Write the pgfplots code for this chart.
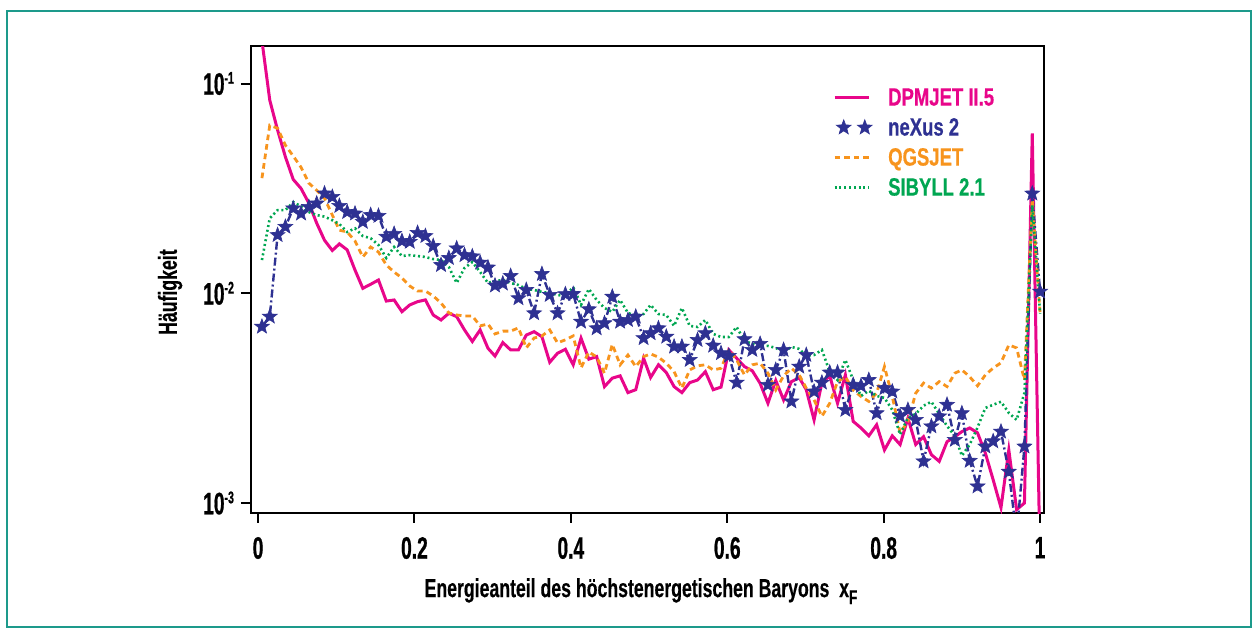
\documentclass[border=0pt]{standalone}
\usepackage{fontspec}
\setmainfont{Liberation Sans Bold}[FakeStretch=0.68, FakeBold=0.4]
\newfontfamily\tickfont{Liberation Sans Bold}[FakeStretch=0.62, FakeBold=0.6]
\newfontfamily\legfont{Liberation Sans Bold}[FakeStretch=0.74, FakeBold=0.5]
\usepackage{pgfplots}
\usepackage{pgfplotstable}
\pgfplotsset{compat=1.18}
\definecolor{dpm}{HTML}{E8068A}
\definecolor{nex}{HTML}{2E3192}
\definecolor{qgs}{HTML}{F7941D}
\definecolor{sib}{HTML}{00A651}
\definecolor{frame}{HTML}{1D9A8B}

\pgfdeclareplotmark{fstar}{%
  \pgfpathmoveto{\pgfpointpolar{90}{\pgfplotmarksize}}%
  \pgfpathlineto{\pgfpointpolar{126}{0.42\pgfplotmarksize}}%
  \pgfpathlineto{\pgfpointpolar{162}{\pgfplotmarksize}}%
  \pgfpathlineto{\pgfpointpolar{198}{0.42\pgfplotmarksize}}%
  \pgfpathlineto{\pgfpointpolar{234}{\pgfplotmarksize}}%
  \pgfpathlineto{\pgfpointpolar{270}{0.42\pgfplotmarksize}}%
  \pgfpathlineto{\pgfpointpolar{306}{\pgfplotmarksize}}%
  \pgfpathlineto{\pgfpointpolar{342}{0.42\pgfplotmarksize}}%
  \pgfpathlineto{\pgfpointpolar{18}{\pgfplotmarksize}}%
  \pgfpathlineto{\pgfpointpolar{54}{0.42\pgfplotmarksize}}%
  \pgfpathclose
  \pgfusepathqfillstroke
}
\pgfplotsset{starlegend/.style={legend image code/.code={\path[##1] plot[only marks] coordinates {(0.16cm,0cm) (0.53cm,0cm)};}}}

\pgfplotstableread{
x dpm nex qgs sib
0.005 0.16 0.00693 0.0354 0.0144
0.015 0.0833 0.00774 0.0633 0.0228
0.025 0.060 0.01895 0.0612 0.0249
0.035 0.0447 0.02075 0.0508 0.0249
0.045 0.0349 0.0254 0.0451 0.0272
0.055 0.0316 0.0240 0.0399 0.0260
0.065 0.0269 0.0258 0.0335 0.0244
0.075 0.0216 0.0268 0.0310 0.0236
0.085 0.0179 0.0299 0.0284 0.0232
0.095 0.0160 0.0288 0.0236 0.0223
0.104 0.0172 0.0261 0.0200 0.0214
0.114 0.0161 0.0244 0.0196 0.0196
0.124 0.0129 0.0240 0.01775 0.0204
0.134 0.01056 0.0219 0.01489 0.01875
0.144 0.01104 0.0236 0.01662 0.0183
0.154 0.01157 0.0234 0.01573 0.0170
0.164 0.00918 0.0186 0.01364 0.01473
0.174 0.00929 0.0192 0.01263 0.01662
0.184 0.00817 0.01775 0.01183 0.01505
0.194 0.0088 0.0176 0.01083 0.0152
0.204 0.00912 0.0194 0.01025 0.01505
0.214 0.0093 0.01875 0.01025 0.0149
0.224 0.00788 0.0168 0.00971 0.01456
0.234 0.00746 0.01364 0.00899 0.0144
0.244 0.00803 0.01473 0.00806 0.01334
0.254 0.00774 0.01637 0.00788 0.0112
0.264 0.00669 0.0152 0.0078 0.0132
0.274 0.00589 0.0150 0.0078 0.01409
0.284 0.00669 0.0140 0.00699 0.01263
0.294 0.00547 0.01327 0.00714 0.0112
0.303 0.00502 0.01089 0.0064 0.01144
0.313 0.00582 0.01113 0.0066 0.01157
0.323 0.00537 0.01209 0.0066 0.0112
0.333 0.00537 0.00947 0.00684 0.01095
0.343 0.00632 0.01037 0.00549 0.01048
0.353 0.00656 0.00803 0.00612 0.01037
0.363 0.00621 0.01236 0.00626 0.01014
0.373 0.00469 0.00982 0.00669 0.01003
0.383 0.00518 0.00803 0.0058 0.00982
0.393 0.00541 0.0099 0.0060 0.0097
0.403 0.00456 0.00992 0.00626 0.01071
0.413 0.00611 0.00732 0.00441 0.0088
0.423 0.00485 0.00839 0.00525 0.01048
0.433 0.00499 0.00681 0.00497 0.00929
0.443 0.00359 0.0072 0.00416 0.00851
0.453 0.00394 0.00963 0.00571 0.00815
0.463 0.00404 0.00732 0.00456 0.00929
0.473 0.00336 0.00746 0.00508 0.00806
0.483 0.00347 0.00774 0.00447 0.0078
0.493 0.0049 0.00611 0.00499 0.00797
0.502 0.00397 0.00645 0.00514 0.0088
0.512 0.00456 0.00681 0.00496 0.00797
0.522 0.00419 0.00621 0.00464 0.00788
0.532 0.00359 0.00557 0.00423 0.00699
0.542 0.00336 0.00557 0.00353 0.00851
0.552 0.00375 0.00481 0.00431 0.00699
0.562 0.00386 0.00599 0.00451 0.00691
0.572 0.00423 0.00645 0.00456 0.00746
0.582 0.00347 0.00563 0.00431 0.0064
0.592 0.00357 0.00518 0.00439 0.00619
0.602 0.00537 0.00503 0.00537 0.00619
0.612 0.0049 0.00375 0.00481 0.00691
0.622 0.00447 0.00604 0.00408 0.00593
0.632 0.00427 0.00537 0.00456 0.00574
0.642 0.00372 0.00574 0.00464 0.00561
0.652 0.00299 0.00366 0.00416 0.00561
0.662 0.00384 0.00431 0.00346 0.00549
0.672 0.0031 0.00537 0.00404 0.00525
0.682 0.00379 0.00305 0.00439 0.00555
0.692 0.00396 0.00447 0.00408 0.00543
0.701 0.00347 0.00508 0.00353 0.00503
0.711 0.00249 0.0034 0.0031 0.00508
0.721 0.00375 0.00375 0.00259 0.00537
0.731 0.00404 0.00419 0.00299 0.00422
0.741 0.00299 0.00419 0.00379 0.00386
0.751 0.00408 0.00278 0.0040 0.00481
0.761 0.00245 0.00366 0.00346 0.00386
0.771 0.00228 0.00362 0.00322 0.00324
0.781 0.00209 0.00386 0.00305 0.00343
0.791 0.00236 0.00268 0.00334 0.00324
0.801 0.00179 0.00353 0.00447 0.00317
0.811 0.00209 0.0034 0.00322 0.00278
0.821 0.0019 0.0026 0.00216 0.00212
0.831 0.00254 0.00278 0.00245 0.00255
0.841 0.0019 0.00249 0.00334 0.00266
0.851 0.00207 0.00158 0.00373 0.00291
0.861 0.0017 0.00232 0.00353 0.00304
0.871 0.00158 0.00259 0.00379 0.00266
0.881 0.00196 0.00294 0.00359 0.00233
0.891 0.00207 0.002 0.00416 0.00209
0.900 0.00219 0.00268 0.00431 0.00168
0.910 0.00228 0.00159 0.0040 0.0019
0.920 0.00216 0.0012 0.00362 0.00229
0.930 0.00173 0.00186 0.00408 0.00284
0.940 0.00129 0.00197 0.0044 0.00294
0.950 0.00095 0.00219 0.00466 0.00304
0.960 0.00179 0.00141 0.00567 0.00269
0.970 0.00093 0.0007 0.00549 0.00249
0.980 0.00100 0.00186 0.00386 0.00335
0.990 0.0578 0.0299 0.028 0.0263
1.000 0.0005 0.01018 0.008 0.008
}\datatable

\begin{document}
\begin{tikzpicture}[x=1pt,y=1pt]
\useasboundingbox (-125.5,-60.5) rectangle (503.5,256.5);
\draw[frame, line width=1.1pt] (-121.9,-57) rectangle (500,251);
\begin{axis}[
  at={(0,0)}, anchor=south west, scale only axis,
  width=396.5pt, height=233.5pt,
  xmin=-0.009, xmax=1.005,
  ymode=log, ymin=8.96e-4, ymax=0.151,
  xtick={0,0.2,0.4,0.6,0.8,1},
  xticklabels={0,0.2,0.4,0.6,0.8,1},
  ytick={0.001,0.01,0.1},
  yticklabels={10\raisebox{5.5pt}{\fontsize{8.5}{8.5}\selectfont -3},10\raisebox{5.5pt}{\fontsize{8.5}{8.5}\selectfont -2},10\raisebox{5.5pt}{\fontsize{8.5}{8.5}\selectfont -1}},
  yminorticks=false,
  xtick pos=bottom, ytick pos=left,
  tick align=outside, major tick length=5pt,
  tick style={black, line width=1pt},
  axis line style={line width=1pt},
  tick label style={font=\tickfont\fontsize{15.5}{15.5}\selectfont},
  xticklabel style={yshift=-3.5pt},
  yticklabel style={xshift=0pt},
  xlabel={Energieanteil des höchstenergetischen Baryons\ \ x\raisebox{-3.5pt}{\fontsize{10}{10}\selectfont F}},
  xlabel style={at={(axis description cs:0.4918,-0.18)}, anchor=base, font=\fontsize{13}{13}\selectfont},
  ylabel={Häufigkeit},
  ylabel style={at={(axis description cs:-0.102,0.473)}, anchor=center, font=\fontsize{13}{13}\selectfont},
  legend style={at={(0.726,0.929)}, anchor=north west, draw=none, fill=none,
    font=\legfont\fontsize{12.5}{12.5}\selectfont,
    nodes={inner sep=1.5pt, text height=9.5pt, text depth=1.5pt},
    row sep=1pt,
    /tikz/every odd column/.append style={column sep=6.5pt}},
  legend cell align=left,
]
\addplot[dpm, line width=1.5pt, no marks] table[x=x, y=dpm] {\datatable};
\addlegendentry{\textcolor{dpm}{DPMJET II.5}}
\addplot[nex, line width=1.2pt, dash pattern=on 4pt off 1.5pt on 1pt off 1.5pt,
  mark=fstar, mark size=3.9pt, mark options={solid, fill=nex, draw=nex, line width=0.3pt},
  starlegend]
  table[x=x, y=nex] {\datatable};
\addlegendentry{\textcolor{nex}{neXus 2}}
\addplot[qgs, line width=1.4pt, no marks, dash pattern=on 2.8pt off 2pt] table[x=x, y=qgs] {\datatable};
\addlegendentry{\textcolor{qgs}{QGSJET}}
\addplot[sib, line width=1.3pt, no marks, dash pattern=on 1pt off 1.4pt] table[x=x, y=sib] {\datatable};
\addlegendentry{\textcolor{sib}{SIBYLL 2.1}}
\end{axis}
\end{tikzpicture}
\end{document}
